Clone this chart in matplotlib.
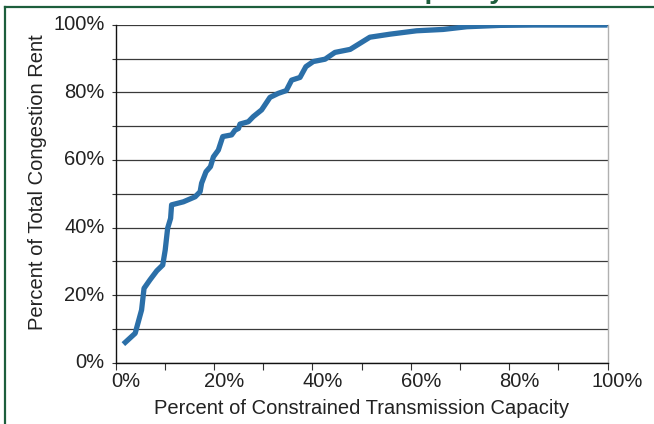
import numpy as np
import matplotlib
matplotlib.use("Agg")
import matplotlib.pyplot as plt
from matplotlib.lines import Line2D
from matplotlib.ticker import MultipleLocator, PercentFormatter
import matplotlib.transforms as mtransforms

plt.rcParams.update({
    "font.family": "sans-serif", "font.sans-serif": ["Liberation Sans", "DejaVu Sans"],
    "font.size": 14.5, "axes.linewidth": 1.0})

# cumulative share of congestion rent vs share of constrained capacity (%)
CAPACITY = [1.6, 4.0, 5.3, 5.8, 7.0, 8.4, 9.6, 10.1, 10.6, 11.2, 11.4, 13.8, 16.2,
            17.2, 17.5, 18.4, 19.3, 19.9, 20.9, 21.8, 23.6, 24.3, 25.0, 25.3, 27.0,
            28.0, 29.7, 31.4, 33.1, 34.7, 35.8, 37.5, 38.7, 40.2, 42.6, 44.6, 47.7,
            49.7, 51.7, 55.8, 61.2, 66.6, 71.4, 78.2, 85.0, 100.0]
RENT = [5.5, 8.7, 15.6, 22.0, 24.5, 27.2, 28.9, 33.3, 39.8, 42.7, 46.7, 47.6, 49.1,
        50.6, 53.1, 56.5, 58.0, 60.9, 62.9, 66.9, 67.4, 68.8, 69.3, 70.6, 71.3,
        72.8, 74.8, 78.5, 79.7, 80.5, 83.6, 84.4, 87.6, 89.1, 89.8, 91.8, 92.7,
        94.5, 96.3, 97.2, 98.2, 98.6, 99.4, 99.8, 99.9, 99.9]

W, H = 654, 424
fig = plt.figure(figsize=(W / 100, H / 100), dpi=100)
ax = fig.add_axes([115.5 / W, 1 - 362.7 / H, 492 / W, 338 / H])

ax.plot(CAPACITY, RENT, color="#2b6fa8", lw=3.8, solid_capstyle="butt", zorder=3)

ax.set_xlim(0, 100)
ax.set_ylim(0, 100)
ax.xaxis.set_major_locator(MultipleLocator(20))
ax.xaxis.set_minor_locator(MultipleLocator(10))
ax.yaxis.set_major_locator(MultipleLocator(20))
ax.yaxis.set_minor_locator(MultipleLocator(10))
ax.xaxis.set_major_formatter(PercentFormatter(decimals=0))
ax.yaxis.set_major_formatter(PercentFormatter(decimals=0))
ax.grid(True, which="both", axis="y", color="#3a3a3a", lw=0.9, zorder=1)
ax.tick_params(axis="x", which="both", direction="out", length=5, width=0.8,
               colors="#333333", labelcolor="#222222", labelsize=14.5, pad=2)
ax.tick_params(axis="y", which="both", direction="out", length=3, width=0.8,
               colors="#333333", labelcolor="#222222", labelsize=14.5, pad=5)
for lab in ax.get_xticklabels():
    lab.set_transform(lab.get_transform() +
                      mtransforms.ScaledTranslation(10 / 100, 0, fig.dpi_scale_trans))
for lab in ax.get_yticklabels():
    lab.set_transform(lab.get_transform() +
                      mtransforms.ScaledTranslation(0, 2 / 100, fig.dpi_scale_trans))

ax.spines["top"].set_visible(False)
ax.spines["right"].set_color("#b0b0b0")
ax.spines["left"].set_color("#111111")
ax.spines["bottom"].set_color("#111111")

fig.text(361.5 / W, 1 - 408 / H, "Percent of Constrained Transmission Capacity",
         ha="center", va="center", fontsize=14.5, color="#222222")
fig.text(38 / W, 1 - 182 / H, "Percent of Total Congestion Rent", rotation=90,
         ha="center", va="center", fontsize=14.5, color="#222222")

# green frame and clipped title of the source page
green = "#1d5e3c"
fig.add_artist(Line2D([5 / W, 1], [1 - 6.5 / H] * 2, color=green, lw=1.6))
fig.add_artist(Line2D([5 / W, 5 / W], [0, 1 - 6.5 / H], color=green, lw=1.6))
fig.text(505 / W, 1 + 2.5 / H, "Transmission Capacity", ha="right", va="baseline",
         fontsize=20, fontweight="bold", color=green)

fig.savefig("out.png", dpi=100)
